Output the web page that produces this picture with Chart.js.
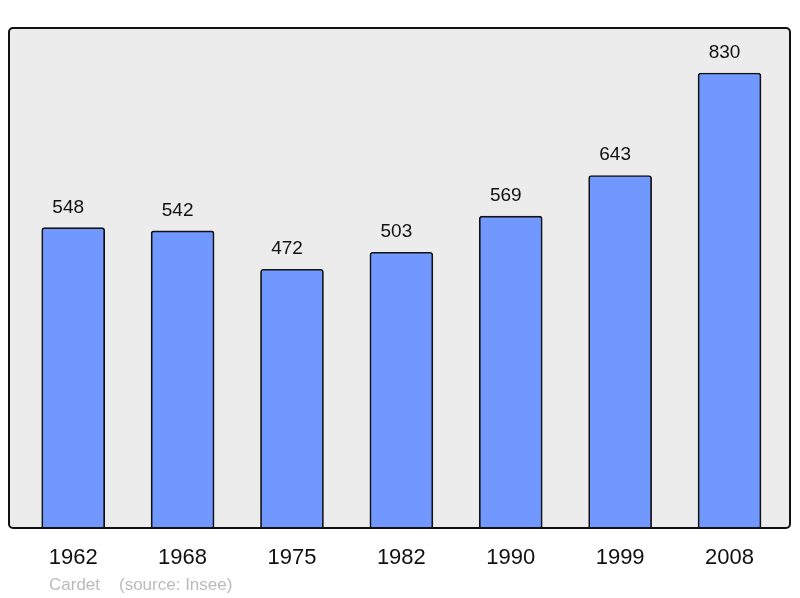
<!DOCTYPE html>
<html>
<head>
<meta charset="utf-8">
<script src="https://cdn.jsdelivr.net/npm/chart.js@4/dist/chart.umd.min.js"></script>
<style>
  html, body { margin: 0; padding: 0; background: #fff; }
  #wrap { width: 800px; height: 598px; }
</style>
</head>
<body>
<div id="wrap"><canvas id="pop-chart" width="800" height="598"></canvas></div>
<script>
// population by census year
const years = ['1962', '1968', '1975', '1982', '1990', '1999', '2008'];
const population = [548, 542, 472, 503, 569, 643, 830];
const footerAuthor = 'Cardet';
const footerSource = '(source: Insee)';

let $ctx = document.getElementById('pop-chart').getContext('2d');

// grey framed box behind the bars
const frameBox = {
    id: 'frameBox',
    beforeDatasetsDraw: (chart) => {
        let {ctx, chartArea: a} = chart;
        ctx.save();
        ctx.beginPath();
        ctx.roundRect(a.left, a.top, a.right - a.left, a.bottom - a.top, 4);
        ctx.fillStyle = '#ececec';
        ctx.fill();
        ctx.restore();
    },
    afterDatasetsDraw: (chart) => {
        let {ctx, chartArea: a} = chart;
        ctx.save();
        ctx.beginPath();
        ctx.roundRect(a.left, a.top, a.right - a.left, a.bottom - a.top, 4);
        ctx.lineWidth = 2;
        ctx.strokeStyle = '#111';
        ctx.stroke();
        ctx.restore();
    }
}

// value above each bar (sits a bit left of centre, like the original) + footer credit
const valueLabels = {
    id: 'valueLabels',
    afterDraw: (chart) => {
        let ctx = chart.ctx;
        ctx.save();
        ctx.font = '19px "Liberation Sans", Arial, sans-serif';
        ctx.fillStyle = '#111';
        ctx.textAlign = 'center';
        ctx.textBaseline = 'alphabetic';
        chart.getDatasetMeta(0).data.forEach((bar, i) => {
            ctx.fillText(population[i], bar.x - 5, bar.y - 15);
        });
        ctx.font = '17px "Liberation Sans", Arial, sans-serif';
        ctx.fillStyle = '#bbbbbb';
        ctx.textAlign = 'left';
        ctx.fillText(footerAuthor, 49, 590);
        ctx.fillText(footerSource, 119, 590);
        ctx.restore();
    }
}

const data = {
    datasets: [{
        data: population.map((v, i) => ({x: i, y: v})),
        backgroundColor: '#7098ff',
        borderColor: '#111',
        borderWidth: 1.7,
        borderRadius: 3,
        borderSkipped: 'bottom',
        barThickness: 63,
    }]
}

const config = {
    type: 'bar',
    data,
    options: {
        responsive: false,
        animation: false,
        layout: {
            padding: {left: 9, right: 10, top: 28, bottom: 0}
        },
        scales: {
            x: {
                type: 'linear',
                offset: false,
                min: -0.587,
                max: 6.553,
                grid: {display: false, drawTicks: false, offset: false},
                border: {display: false},
                afterBuildTicks: (scale) => {
                    scale.ticks = years.map((_, i) => ({value: i}));
                },
                afterFit: (scale) => {
                    scale.height = 70;
                },
                ticks: {
                    padding: 17,
                    color: '#111',
                    font: {family: '"Liberation Sans", Arial, sans-serif', size: 22},
                    callback: (v) => years[v],
                    maxRotation: 0,
                    autoSkip: false,
                }
            },
            y: {
                display: false,
                min: 0,
                max: 912,
            }
        },
        plugins: {
            legend: {display: false},
            tooltip: {enabled: false},
        }
    },
    plugins: [frameBox, valueLabels]
}

new Chart($ctx, config);
</script>
</body>
</html>
